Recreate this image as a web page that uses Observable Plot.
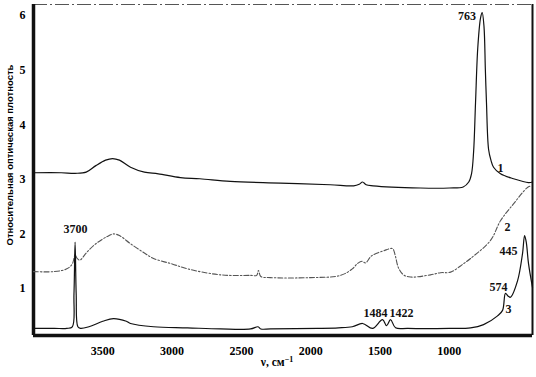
<!DOCTYPE html>
<html><head><meta charset="utf-8">
<script src="https://cdn.jsdelivr.net/npm/d3@7"></script>
<script src="https://cdn.jsdelivr.net/npm/@observablehq/plot@0.6"></script>
<style>
html,body{margin:0;padding:0;background:#fff;}
</style>
</head><body>
<div id="chart"></div>
<script>
// Curve 1 (top, solid)
const wn1 = [4000,3800,3700,3620,3550,3480,3430,3380,3300,3200,3100,2940,2800,2580,2220,1860,1690,1650,1626,1600,1550,1210,1000,900,860,840,825,811,795,775,763,750,740,732,717,700,681,631,537,429,400];
const ab1 = [3.12,3.12,3.11,3.13,3.25,3.35,3.38,3.35,3.22,3.13,3.10,3.03,3.01,2.96,2.93,2.90,2.88,2.91,2.95,2.90,2.88,2.84,2.84,2.86,2.95,3.10,3.5,4.4,5.4,5.95,6.05,5.8,5.0,4.4,3.55,3.35,3.22,3.10,3.01,2.94,2.95];
// Curve 2 (middle, dashed)
const wn2 = [4000,3850,3760,3720,3700,3685,3665,3620,3550,3470,3423,3380,3300,3200,3134,3000,2889,2651,2434,2390,2377,2360,2290,2000,1785,1700,1662,1630,1605,1560,1475,1410,1390,1367,1330,1280,1136,1064,991,900,847,703,631,537,436,407];
const ab2 = [1.31,1.31,1.36,1.45,1.62,1.55,1.52,1.65,1.82,1.95,2.0,1.97,1.82,1.65,1.55,1.45,1.36,1.25,1.24,1.24,1.33,1.22,1.20,1.20,1.24,1.36,1.46,1.50,1.47,1.60,1.69,1.73,1.60,1.38,1.25,1.21,1.25,1.29,1.30,1.45,1.55,1.88,2.24,2.55,2.85,2.88];
// Curve 3 (bottom, solid)
const wn3 = [4000,3850,3760,3720,3708,3700,3692,3680,3661,3600,3500,3423,3330,3300,3134,2889,2651,2434,2380,2360,2290,1950,1800,1700,1626,1554,1482,1453,1424,1388,1300,1000,847,753,652,616,595,575,559,508,472,457,445,429,400];
const ab3 = [0.27,0.27,0.27,0.30,0.9,1.85,0.9,0.30,0.27,0.30,0.40,0.45,0.40,0.36,0.30,0.28,0.26,0.26,0.30,0.26,0.26,0.27,0.28,0.30,0.36,0.27,0.43,0.32,0.43,0.28,0.27,0.27,0.28,0.34,0.50,0.60,0.91,0.86,0.84,1.14,1.64,1.97,1.85,1.46,1.02];
// Annotations
const noteText = ["1","2","445","574","3","3700","1484","1422"];
const noteWn   = [631,580,573,645,573,3697,1532,1345];
const noteAb   = [3.21,2.12,1.69,1.03,0.63,2.08,0.54,0.54];
const peakText = ["763"];
const peakWn = [808];
const peakAb = [5.98];
const xTicks = [3500,3000,2500,2000,1500,1000];
const yTicks = [1,2,3,4,5,6];

const c1 = wn1.map((w,i)=>({w, a: ab1[i]}));
const c2 = wn2.map((w,i)=>({w, a: ab2[i]}));
const c3 = wn3.map((w,i)=>({w, a: ab3[i]}));
const notes = noteText.map((t,i)=>({t, w: noteWn[i], a: noteAb[i]}));
const peaks = peakText.map((t,i)=>({t, w: peakWn[i], a: peakAb[i]}));

const font = "'Liberation Serif', 'DejaVu Serif', serif";
const chart = Plot.plot({
  width: 536, height: 377,
  marginLeft: 33, marginRight: 4, marginTop: 4, marginBottom: 42,
  style: {fontFamily: font, fontSize: "11.5px", fontWeight: "bold", background: "#fff"},
  x: {domain: [4000, 400]},
  y: {domain: [0.14, 6.2]},
  marks: [
    Plot.axisX({ticks: xTicks, tickFormat: d => String(d), tickSize: 0, tickPadding: 11, label: null, fontWeight: "bold", fontSize: 12}),
    Plot.axisY({ticks: yTicks, tickFormat: d => String(d), tickSize: 0, tickPadding: 8, label: null, fontWeight: "bold", fontSize: 12}),
    Plot.ruleY([6.2], {stroke: "#555", strokeWidth: 1, strokeDasharray: "14,3,2,3"}),
    Plot.ruleX([400], {stroke: "#111", strokeWidth: 2}),
    Plot.ruleX([4000], {stroke: "#111", strokeWidth: 3.5}),
    Plot.ruleY([0.14], {stroke: "#111", strokeWidth: 3.5}),
    Plot.line(c2, {x: "w", y: "a", stroke: "#555", strokeWidth: 1.1, strokeDasharray: "5,2,1.5,2", curve: "catmull-rom"}),
    Plot.line(c1, {x: "w", y: "a", stroke: "#111", strokeWidth: 1.2, curve: "catmull-rom"}),
    Plot.line(c3, {x: "w", y: "a", stroke: "#111", strokeWidth: 1.2, curve: "catmull-rom"}),
    Plot.text(notes, {x: "w", y: "a", text: "t", textAnchor: "middle", fontSize: 12, fontWeight: "bold", fill: "#111"}),
    Plot.text(peaks, {x: "w", y: "a", text: "t", textAnchor: "end", fontSize: 12, fontWeight: "bold", fill: "#111"})
  ]
});
document.getElementById("chart").appendChild(chart);

const svg = d3.select(chart);
svg.append("text")
  .attr("x", 277).attr("y", 366)
  .attr("text-anchor", "middle")
  .attr("font-family", font).attr("font-weight", "bold").attr("font-size", 11.5)
  .html("ν, см<tspan dy='-4' font-size='8'>−1</tspan>");
svg.append("text")
  .attr("transform", "translate(13,155) rotate(-90)")
  .attr("text-anchor", "middle")
  .attr("font-family", "'Liberation Sans', Arial, sans-serif").attr("font-weight", "bold").attr("font-size", 9.5)
  .text("Относительная оптическая плотность");
</script>
</body></html>
